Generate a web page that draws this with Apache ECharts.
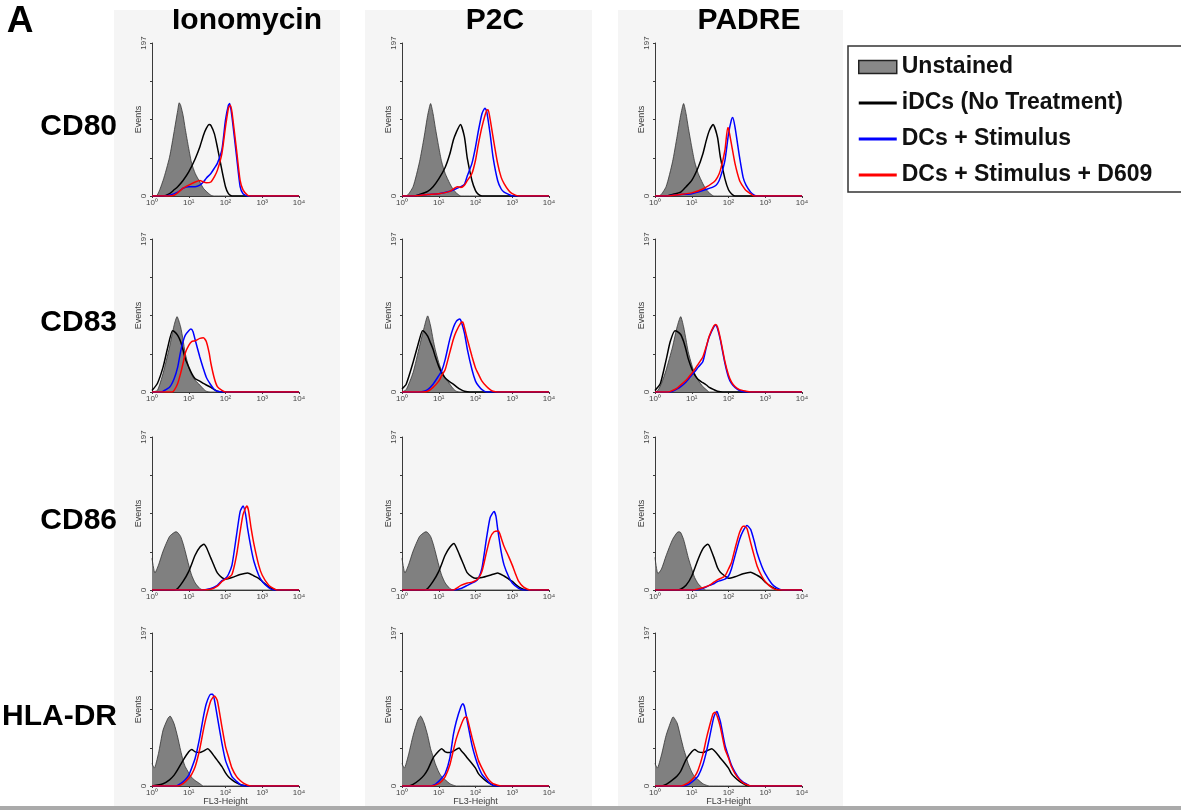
<!DOCTYPE html>
<html>
<head>
<meta charset="utf-8">
<title>DC maturation markers</title>
<script src="https://cdn.jsdelivr.net/npm/echarts@6/dist/echarts.min.js"></script>
<style>
html, body { margin: 0; padding: 0; background: #fff; }
#chart { width: 1181px; height: 812px; }
</style>
</head>
<body>
<div id="chart"></div>
<script>
var markers = ['CD80', 'CD83', 'CD86', 'HLA-DR'];
var stimuli = ['Ionomycin', 'P2C', 'PADRE'];
var seriesNames = ['Unstained', 'iDCs (No Treatment)', 'DCs + Stimulus', 'DCs + Stimulus + D609'];
var xTickLabels = ['10⁰', '10¹', '10²', '10³', '10⁴'];
var yTickLabels = [0, 197];

// each panel: [unstained, iDCs, stimulus, stimulus + D609], points are [FL3, events]
var cd80Iono = [
    [[1,0],[1.3,0],[2,20],[3,50],[4,83],[5,110],[5.5,120],[6,117],[7,104],[8,87],[10,61],[12,42],[15,29],[20,18],[25,10],[30,6],[40,1],[50,0],[10000,0]],
    [[1,0],[2,0],[3,3],[4,8],[5,12],[7,20],[10,31],[15,48],[20,63],[25,78],[30,87],[36,92],[40,91],[50,80],[60,63],[80,33],[100,12],[120,3],[150,0],[10000,0]],
    [[1,0],[2,0],[3,1],[5,5],[7,10],[10,12],[15,12],[20,14],[25,18],[30,23],[40,29],[50,36],[60,42],[80,60],[100,98],[120,117],[130,119],[150,102],[200,51],[250,12],[300,3],[400,0],[10000,0]],
    [[1,0],[3,0],[4,1],[5,4],[7,10],[10,14],[15,18],[20,20],[25,18],[30,17],[40,18],[50,25],[60,33],[80,55],[100,89],[120,113],[135,117],[150,108],[200,59],[250,20],[300,8],[400,1],[500,0],[10000,0]]
];
var cd80P2C = [
    [[1,0],[1.3,0],[2,12],[3,44],[4,76],[5,104],[6,119],[7,106],[8,89],[10,63],[12,44],[15,29],[20,16],[25,8],[30,4],[40,0],[10000,0]],
    [[1,0],[2,0],[3,2],[5,6],[7,12],[10,22],[15,37],[20,54],[25,72],[30,82],[39,92],[50,76],[60,48],[80,20],[100,7],[120,2],[150,0],[10000,0]],
    [[1,0],[1.8,0],[5,2],[10,3],[20,6],[40,12],[50,15],[60,26],[80,42],[100,63],[120,84],[150,106],[180,113],[200,110],[250,80],[300,50],[400,20],[500,9],[600,5],[800,2],[1000,0],[10000,0]],
    [[1,0],[2,0],[5,2],[10,3],[20,6],[32,12],[40,11],[50,14],[60,20],[80,29],[100,46],[120,67],[150,89],[200,110],[220,111],[250,99],[300,76],[400,42],[500,24],[600,16],[800,7],[1000,3],[1500,0],[10000,0]]
];
var cd80Padre = [
    [[1,0],[1.3,0],[2,12],[3,44],[4,77],[5,104],[6,119],[7,106],[8,89],[10,63],[12,44],[15,29],[20,16],[25,8],[30,4],[40,0],[10000,0]],
    [[1,0],[2,0],[3,2],[5,5],[7,12],[10,20],[15,37],[20,54],[25,72],[30,84],[38,92],[50,76],[60,50],[80,22],[100,8],[120,3],[150,0],[10000,0]],
    [[1,0],[1.7,0],[5,2],[10,3],[20,7],[40,12],[50,16],[60,24],[80,46],[100,80],[120,98],[130,101],[150,89],[200,50],[250,24],[300,14],[400,5],[500,1],[600,0],[10000,0]],
    [[1,0],[2,0],[5,2],[10,4],[20,9],[40,18],[50,24],[60,33],[80,59],[95,88],[100,87],[120,67],[150,42],[200,20],[250,12],[300,7],[400,3],[500,0],[10000,0]]
];
var cd83Iono = [
    [[1,0],[1.4,2],[2,24],[3,58],[4,86],[4.8,97],[6,84],[7,67],[8,50],[10,32],[12,22],[15,15],[20,9],[25,4],[30,1],[40,0],[10000,0]],
    [[1,2],[1.4,11],[2,32],[2.7,58],[3.6,79],[4,78],[5,73],[6,65],[7,54],[8,43],[10,32],[12,24],[15,17],[20,14],[25,11],[30,9],[40,6],[50,3],[60,1],[80,0],[10000,0]],
    [[1,0],[1.8,0],[2,1],[3,6],[4,17],[5,32],[6,52],[7,65],[8,73],[10,79],[11.5,81],[13,78],[15,67],[20,45],[25,30],[30,19],[40,9],[50,3],[60,1],[80,0],[10000,0]],
    [[1,0],[3.5,0],[4,2],[5,11],[6,24],[7,37],[8,50],[10,60],[12,65],[15,66],[20,69],[25,70],[30,65],[36,50],[40,37],[50,17],[60,7],[80,2],[100,0],[10000,0]]
];
var cd83P2C = [
    [[1,0],[1.3,3],[2,25],[3,59],[4,83],[5,98],[6,85],[7,68],[8,55],[10,38],[12,27],[15,18],[20,10],[25,4],[30,1],[40,0],[10000,0]],
    [[1,4],[1.3,10],[2,38],[3,68],[3.6,79],[4,78],[5,72],[6,63],[7,55],[8,46],[10,33],[12,25],[15,18],[20,13],[25,10],[30,7],[40,3],[50,1],[70,0],[10000,0]],
    [[1,0],[3,0],[4,1],[5,3],[7,10],[10,21],[12,27],[15,42],[20,68],[25,83],[30,91],[37,94],[40,92],[50,76],[60,55],[80,29],[100,14],[120,8],[150,3],[200,0],[10000,0]],
    [[1,0],[3.6,0],[5,1],[7,6],[10,14],[12,21],[15,29],[20,51],[25,68],[30,78],[40,89],[45,90],[50,83],[60,68],[80,46],[100,31],[120,23],[150,14],[200,7],[250,3],[300,1],[400,0],[10000,0]]
];
var cd83Padre = [
    [[1,0],[1.2,2],[1.5,11],[2,28],[3,58],[4,84],[5,97],[6,84],[7,67],[8,52],[10,35],[12,24],[15,15],[20,7],[25,3],[30,0],[10000,0]],
    [[1,2],[1.4,11],[2,41],[2.6,65],[3.5,79],[4,78],[5,74],[6,65],[7,54],[8,43],[10,30],[12,22],[15,16],[20,12],[25,9],[30,6],[40,3],[50,1],[70,0],[10000,0]],
    [[1,0],[2.5,0],[3,1],[4,4],[5,7],[7,13],[10,22],[12,26],[15,32],[20,39],[25,58],[30,71],[40,84],[45,86],[50,82],[60,67],[80,37],[100,19],[120,11],[150,6],[200,2],[300,0],[10000,0]],
    [[1,0],[2.3,0],[3,2],[4,5],[5,9],[7,15],[10,24],[12,29],[15,36],[20,45],[25,59],[30,72],[40,85],[45,87],[50,84],[60,69],[80,39],[100,22],[120,13],[150,7],[200,3],[300,1],[400,0],[10000,0]]
];
var cd86Iono = [
    [[1,41],[1.2,22],[1.5,32],[2,50],[3,69],[4,74],[4.5,75],[5,74],[6,69],[7,60],[8,50],[10,32],[12,19],[15,9],[20,2],[25,0],[10000,0]],
    [[1,0],[4,0],[5,2],[7,11],[10,24],[15,45],[20,55],[26,59],[30,55],[40,41],[50,30],[60,22],[80,16],[100,14],[150,16],[250,20],[400,22],[600,18],[800,15],[1000,11],[1500,4],[2000,1],[2500,0],[10000,0]],
    [[1,0],[20,0],[40,2],[60,6],[80,12],[100,15],[120,20],[150,32],[200,71],[250,101],[300,108],[350,98],[400,79],[500,53],[600,36],[800,19],[1000,11],[1500,3],[2000,0],[10000,0]],
    [[1,0],[22,0],[40,1],[60,5],[80,11],[100,14],[120,16],[150,20],[200,45],[250,75],[300,97],[380,108],[420,103],[500,79],[600,58],[800,32],[1000,19],[1500,6],[2000,2],[2500,0],[10000,0]]
];
var cd86P2C = [
    [[1,41],[1.2,22],[1.5,32],[2,50],[3,69],[4,74],[4.5,75],[5,74],[6,69],[7,60],[8,50],[10,32],[12,19],[15,9],[20,2],[25,0],[10000,0]],
    [[1,0],[4,0],[5,2],[7,11],[10,24],[15,45],[20,55],[26,60],[30,55],[40,41],[50,30],[60,22],[80,17],[100,15],[150,16],[250,19],[400,22],[600,18],[800,14],[1000,11],[1500,4],[2000,1],[2600,0],[10000,0]],
    [[1,0],[25,0],[40,2],[60,6],[80,9],[100,11],[120,15],[150,28],[200,67],[250,93],[320,101],[360,95],[400,79],[500,49],[600,32],[800,17],[1000,9],[1500,2],[2000,0],[10000,0]],
    [[1,0],[25,0],[30,2],[40,6],[60,9],[80,10],[100,12],[120,15],[150,24],[200,49],[250,67],[320,75],[420,76],[500,67],[600,56],[800,43],[1000,32],[1200,22],[1500,11],[2000,4],[2600,1],[3200,0],[10000,0]]
];
var cd86Padre = [
    [[1,42],[1.2,21],[1.5,27],[2,44],[3,65],[4,74],[4.5,75],[5,74],[6,65],[7,53],[8,42],[10,27],[12,16],[15,8],[20,2],[25,0],[10000,0]],
    [[1,0],[4,0],[5,1],[7,6],[10,18],[15,40],[20,53],[27,59],[30,57],[40,42],[50,29],[60,23],[80,18],[100,15],[150,17],[250,21],[400,23],[600,19],[800,15],[1000,10],[1500,4],[2000,1],[2700,0],[10000,0]],
    [[1,0],[11,0],[20,2],[30,6],[40,8],[50,11],[80,14],[100,18],[120,27],[150,44],[200,65],[250,76],[320,83],[400,78],[500,63],[600,48],[800,31],[1000,21],[1500,8],[2000,3],[3000,0],[10000,0]],
    [[1,0],[10,0],[20,3],[30,6],[40,10],[50,13],[80,18],[100,27],[120,35],[150,53],[200,74],[250,82],[275,82],[320,79],[400,61],[500,44],[600,31],[800,18],[1000,11],[1500,3],[2200,0],[10000,0]]
];
var hlaIono = [
    [[1,29],[1.15,23],[1.5,42],[2,72],[2.7,87],[3.1,90],[4,80],[5,63],[6,46],[7,33],[8,25],[10,17],[12,11],[15,7],[20,3],[25,0],[10000,0]],
    [[1,0],[2,3],[3,8],[4,14],[5,21],[7,33],[10,44],[12,47],[15,44],[20,43],[25,45],[33,48],[40,44],[50,38],[60,33],[80,25],[100,17],[120,12],[150,8],[200,4],[250,2],[300,1],[400,0],[10000,0]],
    [[1,0],[4.6,0],[6,3],[8,8],[10,14],[12,23],[15,36],[20,63],[25,89],[30,106],[40,118],[45,118],[50,111],[60,89],[80,55],[100,33],[120,23],[150,12],[200,6],[250,2],[350,0],[10000,0]],
    [[1,0],[5,0],[7,3],[10,10],[12,15],[15,25],[20,48],[25,72],[30,89],[40,110],[50,116],[60,110],[80,76],[100,51],[120,38],[150,23],[200,12],[250,7],[300,4],[400,1],[500,0],[10000,0]]
];
var hlaP2C = [
    [[1,29],[1.15,23],[1.5,40],[2,65],[2.7,85],[3.2,90],[4,81],[5,65],[6,48],[7,38],[8,29],[10,18],[12,12],[15,8],[20,3],[25,1],[30,0],[10000,0]],
    [[1,0],[1.5,0],[2,2],[3,8],[4,14],[5,21],[7,36],[10,45],[12,48],[15,44],[20,43],[25,45],[36,49],[40,46],[50,41],[60,36],[80,29],[100,23],[120,16],[150,11],[200,6],[250,3],[300,1],[400,0],[10000,0]],
    [[1,0],[6,0],[8,2],[10,6],[12,10],[15,16],[20,36],[25,66],[30,83],[40,102],[45,106],[50,102],[60,83],[80,53],[100,36],[120,25],[150,15],[200,8],[250,3],[350,0],[10000,0]],
    [[1,0],[6.5,0],[10,3],[12,6],[15,12],[20,27],[25,46],[30,61],[40,78],[50,88],[57,89],[60,87],[80,63],[100,46],[120,33],[150,23],[200,12],[250,6],[300,3],[400,1],[500,0],[10000,0]]
];
var hlaPadre = [
    [[1,29],[1.15,23],[1.5,40],[2,65],[2.8,85],[3.1,89],[4,81],[5,63],[6,48],[7,38],[8,29],[10,18],[12,12],[15,8],[20,3],[25,1],[30,0],[10000,0]],
    [[1,0],[1.5,0],[2,2],[3,8],[4,13],[5,19],[7,34],[10,44],[12,47],[15,44],[20,43],[25,45],[35,48],[40,46],[50,41],[60,36],[80,29],[100,23],[120,16],[150,11],[200,6],[250,3],[300,1],[400,0],[10000,0]],
    [[1,0],[5,0],[8,2],[10,5],[12,8],[15,13],[20,27],[25,44],[30,61],[40,89],[48,96],[50,95],[60,83],[80,53],[100,38],[120,27],[150,18],[200,9],[250,5],[300,3],[400,0],[10000,0]],
    [[1,0],[5,0],[8,4],[10,8],[12,12],[15,21],[20,40],[25,61],[30,76],[38,93],[43,95],[50,89],[60,76],[80,48],[100,36],[120,25],[150,16],[200,8],[250,4],[300,2],[400,0],[10000,0]]
];

var panels = [
    [cd80Iono, cd80P2C, cd80Padre],
    [cd83Iono, cd83P2C, cd83Padre],
    [cd86Iono, cd86P2C, cd86Padre],
    [hlaIono, hlaP2C, hlaPadre]
];

var colLeft = [152, 402, 655];
var rowTop = [43, 239, 437, 633];
var plotW = 147, plotH = 153;
var lineColors = ['#333333', '#000000', '#0000ff', '#ff0000'];
var axisColor = '#3a3a3a';
var font = '"Liberation Sans", Arial, sans-serif';
var lineIcon = 'path://M0,0H38V3H0Z';

var grids = [], xAxes = [], yAxes = [], series = [];

for (var r = 0; r < markers.length; r++) {
    for (var c = 0; c < stimuli.length; c++) {
        var idx = r * stimuli.length + c;
        grids.push({
            left: colLeft[c], top: rowTop[r], width: plotW, height: plotH,
            outerBoundsMode: 'none'
        });
        xAxes.push({
            gridIndex: idx,
            type: 'log',
            logBase: 10,
            min: 1,
            max: 10000,
            name: r === markers.length - 1 ? 'FL3-Height' : '',
            nameLocation: 'middle',
            nameGap: 11,
            nameMoveOverlap: false,
            nameTextStyle: {fontSize: 9, color: axisColor},
            axisLine: {lineStyle: {color: axisColor, width: 1}},
            axisTick: {length: 2, lineStyle: {color: axisColor}},
            axisLabel: {
                interval: 0, margin: 3, fontSize: 8, color: '#444',
                formatter: function (v) {
                    return xTickLabels[Math.round(Math.log10(v))];
                }
            },
            splitLine: {show: false}
        });
        yAxes.push({
            gridIndex: idx,
            type: 'value',
            min: 0,
            max: 197,
            interval: 49.25,
            name: 'Events',
            nameLocation: 'middle',
            nameRotate: 90,
            nameGap: 9,
            nameMoveOverlap: false,
            nameTextStyle: {fontSize: 9, color: axisColor},
            axisLine: {show: true, lineStyle: {color: axisColor, width: 1}},
            axisTick: {show: true, length: 2, lineStyle: {color: axisColor}},
            axisLabel: {
                rotate: 90, margin: 4, fontSize: 8, color: '#444',
                formatter: function (v) {
                    return yTickLabels.indexOf(v) >= 0 ? String(v) : '';
                }
            },
            splitLine: {show: false}
        });

        var curves = panels[r][c];
        for (var k = 0; k < curves.length; k++) {
            var s = {
                type: 'line',
                name: seriesNames[k],
                xAxisIndex: idx,
                yAxisIndex: idx,
                data: curves[k],
                symbol: 'none',
                smooth: 0.2,
                lineStyle: {color: lineColors[k], width: k === 0 ? 0.8 : 1.5},
                itemStyle: {color: k === 0 ? '#808080' : lineColors[k]},
                z: 2 + k
            };
            if (k === 0) {
                s.areaStyle = {color: '#808080', opacity: 1};
            }
            series.push(s);
        }
    }
}

// panel strips, legend frame and all the headings
var graphics = [
    {type: 'rect', z: -10, shape: {x: 114, y: 10, width: 226, height: 796}, style: {fill: '#f5f5f5'}},
    {type: 'rect', z: -10, shape: {x: 365, y: 10, width: 227, height: 796}, style: {fill: '#f5f5f5'}},
    {type: 'rect', z: -10, shape: {x: 618, y: 10, width: 225, height: 796}, style: {fill: '#f5f5f5'}},
    {type: 'rect', z: -10, shape: {x: 0, y: 806, width: 1181, height: 4}, style: {fill: '#aaaaaa'}},
    {type: 'rect', shape: {x: 848, y: 46, width: 345, height: 146}, style: {fill: '#fff', stroke: '#333', lineWidth: 1.5}},
    {type: 'text', x: 20, y: 22, style: {text: 'A', font: 'bold 37px ' + font, fill: '#000', textAlign: 'center', textVerticalAlign: 'middle', align: 'center', verticalAlign: 'middle'}}
];
var headX = [247, 495, 749];
for (var i = 0; i < stimuli.length; i++) {
    graphics.push({type: 'text', x: headX[i], y: 21, style: {text: stimuli[i], font: 'bold 30px ' + font, fill: '#000', textAlign: 'center', textVerticalAlign: 'middle', align: 'center', verticalAlign: 'middle'}});
}
for (var j = 0; j < markers.length; j++) {
    graphics.push({type: 'text', x: 117, y: rowTop[j] + 84, style: {text: markers[j], font: 'bold 30px ' + font, fill: '#000', textAlign: 'right', textVerticalAlign: 'middle', align: 'right', verticalAlign: 'middle'}});
}

var myChart = echarts.init(document.getElementById('chart'));
var option = {
    animation: false,
    textStyle: {fontFamily: font},
    grid: grids,
    xAxis: xAxes,
    yAxis: yAxes,
    series: series,
    graphic: {elements: graphics},
    legend: {
        orient: 'vertical',
        left: 853,
        top: 50,
        itemWidth: 38,
        itemHeight: 13,
        itemGap: 12,
        selectedMode: false,
        textStyle: {fontFamily: font, fontSize: 23, fontWeight: 'bold', color: '#111', lineHeight: 24},
        data: [
            {name: seriesNames[0], icon: 'rect', itemStyle: {color: '#888888', borderColor: '#222', borderWidth: 1.5}},
            {name: seriesNames[1], icon: lineIcon, itemStyle: {color: lineColors[1], borderWidth: 0}},
            {name: seriesNames[2], icon: lineIcon, itemStyle: {color: lineColors[2], borderWidth: 0}},
            {name: seriesNames[3], icon: lineIcon, itemStyle: {color: lineColors[3], borderWidth: 0}}
        ]
    }
};
myChart.setOption(option);
</script>
</body>
</html>
